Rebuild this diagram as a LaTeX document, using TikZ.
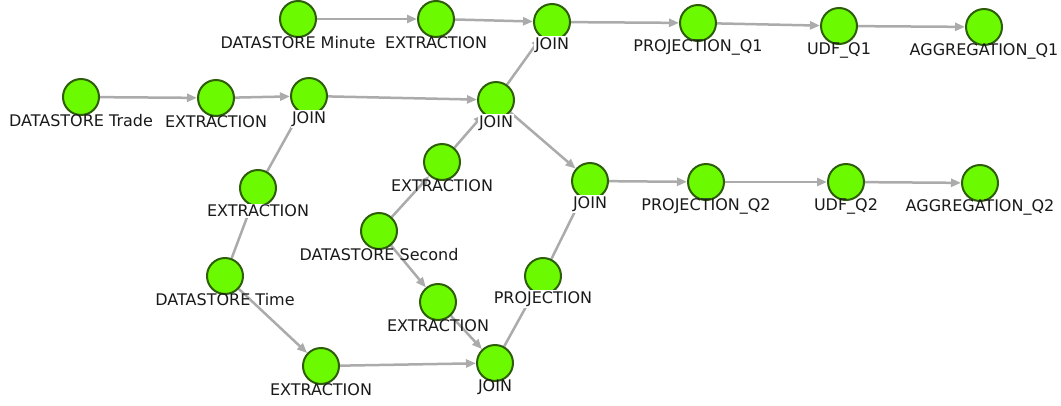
\documentclass[tikz,border=0pt]{standalone}
\usepackage{fontspec}
\setmainfont{DejaVu Sans}
\usetikzlibrary{arrows.meta,backgrounds}
\definecolor{nodefill}{HTML}{6CFA00}
\definecolor{nodeline}{HTML}{2E5E0A}
\definecolor{edgecol}{HTML}{ABABAB}
\definecolor{txt}{HTML}{1A1A1A}
\begin{document}
\begin{tikzpicture}[x=1pt,y=-1pt,
  op/.style={circle,fill=nodefill,draw=nodeline,line width=2pt,minimum size=36pt,inner sep=0pt},
  lab/.style={anchor=center,text=txt,font=\fontsize{16}{18}\selectfont,label distance=5pt,inner sep=0pt},
  labw/.style={lab,fill=white,inner sep=1pt,label distance=4pt},
  edge/.style={draw=edgecol,line width=2.5pt,-{Triangle[length=10pt,width=8pt]}}]
\useasboundingbox (0,0) rectangle (1061,405);
% nodes
\node[op,label={[lab]-90:DATASTORE Minute}] (dsMin) at (298,19) {};
\node[op,label={[lab]-90:EXTRACTION}] (ext1) at (436,19) {};
\node[op,label={[labw]-90:JOIN}] (join1) at (552,22) {};
\node[op,label={[lab]-90:PROJECTION\_Q1}] (projQ1) at (698,23) {};
\node[op,label={[lab]-90:UDF\_Q1}] (udfQ1) at (839,26) {};
\node[op,label={[lab]-90:AGGREGATION\_Q1}] (aggQ1) at (984,27) {};
\node[op,label={[lab]-90:DATASTORE Trade}] (dsTrade) at (81,97) {};
\node[op,label={[lab]-90:EXTRACTION}] (ext2) at (216,98) {};
\node[op,label={[labw]-90:JOIN}] (join2) at (309,96) {};
\node[op,label={[labw]-90:JOIN}] (join3) at (496,100) {};
\node[op,label={[lab]-90:EXTRACTION}] (ext3) at (442,162) {};
\node[op,label={[labw]-90:JOIN}] (join4) at (590,181) {};
\node[op,label={[lab]-90:PROJECTION\_Q2}] (projQ2) at (706,182) {};
\node[op,label={[lab]-90:UDF\_Q2}] (udfQ2) at (846,182) {};
\node[op,label={[lab]-90:AGGREGATION\_Q2}] (aggQ2) at (980,183) {};
\node[op,label={[labw]-90:EXTRACTION}] (ext4) at (258,188) {};
\node[op,label={[lab]-90:DATASTORE Second}] (dsSec) at (379,231) {};
\node[op,label={[labw]-90:PROJECTION}] (proj) at (543,276) {};
\node[op,label={[lab]-90:DATASTORE Time}] (dsTime) at (225,276) {};
\node[op,label={[lab]-90:EXTRACTION}] (ext5) at (438,302) {};
\node[op,label={[lab]-90:EXTRACTION}] (ext6) at (321,366) {};
\node[op,label={[lab]-90:JOIN}] (join5) at (495,363) {};
% edges
\begin{scope}[on background layer]
\fill[white] (0,0) rectangle (1061,405);
\draw[edge] (dsMin) -- (ext1);
\draw[edge] (ext1) -- (join1);
\draw[edge] (join1) -- (projQ1);
\draw[edge] (projQ1) -- (udfQ1);
\draw[edge] (udfQ1) -- (aggQ1);
\draw[edge] (dsTrade) -- (ext2);
\draw[edge] (ext2) -- (join2);
\draw[edge] (join2) -- (join3);
\draw[edge] (join3) -- (join1);
\draw[edge] (ext4) -- (join2);
\draw[edge] (dsTime) -- (ext4);
\draw[edge] (dsTime) -- (ext6);
\draw[edge] (ext6) -- (join5);
\draw[edge] (dsSec) -- (ext3);
\draw[edge] (ext3) -- (join3);
\draw[edge] (dsSec) -- (ext5);
\draw[edge] (ext5) -- (join5);
\draw[edge] (join5) -- (proj);
\draw[edge] (proj) -- (join4);
\draw[edge] (join3) -- (join4);
\draw[edge] (join4) -- (projQ2);
\draw[edge] (projQ2) -- (udfQ2);
\draw[edge] (udfQ2) -- (aggQ2);
\end{scope}
\end{tikzpicture}
\end{document}
